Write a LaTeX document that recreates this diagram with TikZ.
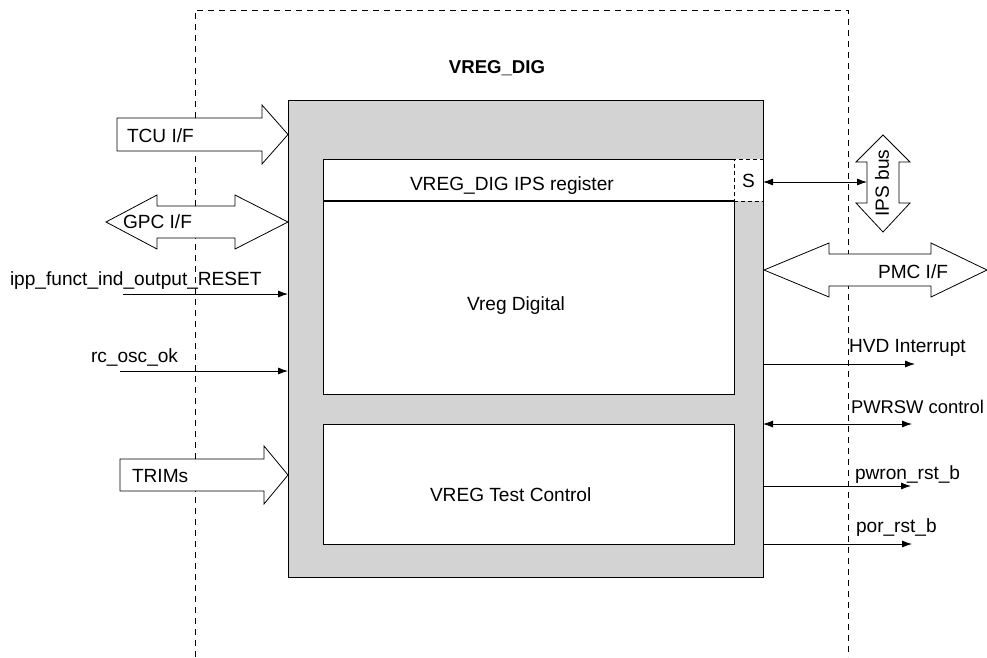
\documentclass[tikz,border=0pt]{standalone}
\usepackage{fontspec}
\setmainfont{Liberation Sans}
\usetikzlibrary{arrows.meta}
\definecolor{blockgray}{RGB}{211,211,211}
\begin{document}
\begin{tikzpicture}[x=1pt,y=-1pt,
  font=\fontsize{19.1}{22}\selectfont,
  every node/.style={outer sep=0pt},
  box/.style={draw=black, line width=0.9pt, fill=white, anchor=north west, inner sep=0pt},
  lbl/.style={anchor=base west, inner sep=0pt},
  bigarrow/.style={draw=black, line width=0.8pt, fill=white},
  sig/.style={draw=black, line width=0.8pt, -{Latex[length=10pt,width=7pt]}},
  bisig/.style={draw=black, line width=0.8pt, {Latex[length=10pt,width=7pt]}-{Latex[length=10pt,width=7pt]}},
  bound/.style={draw=black, line width=0.7pt, dash pattern=on 6pt off 5pt}]
\useasboundingbox (0,0) rectangle (987,657);

% outer dashed boundary
\draw[bound] (195,657) -- (195,10) -- (848,10) -- (848,657);
\node[font=\fontsize{18.6}{22}\selectfont\bfseries, inner sep=0pt, anchor=base] (title) at (497,73) {VREG\_DIG};

% main gray block
\node[box, fill=blockgray, minimum width=475pt, minimum height=477pt] (main) at (288,100) {};
\node[box, minimum width=411pt, minimum height=42pt] (reg) at (323,159) {};
\node[box, minimum width=411pt, minimum height=193pt] (dig) at (323,201) {};
\node[box, dash pattern=on 4pt off 3pt, minimum width=29pt, minimum height=42pt] (sbox) at (734,159) {};
\node[box, minimum width=411pt, minimum height=120pt] (test) at (323,424) {};
\draw[line width=1.2pt] (reg.south west) -- (reg.south east);

\node[lbl] (regtxt) at (410,190) {VREG\_DIG IPS register};
\node[lbl] (digtxt) at (467,310) {Vreg Digital};
\node[lbl] (testtxt) at (430,501) {VREG Test Control};
\node[inner sep=0pt, anchor=base] (stxt) at (748.5,187) {S};

% left big arrows
\draw[bigarrow] (117,118) -- (262,118) -- (262,105) -- (288,134.5) -- (262,164) -- (262,151) -- (117,151) -- cycle;
\node[lbl] (tcu) at (127,142) {TCU I/F};

\draw[bigarrow] (106,222) -- (157,195) -- (157,206) -- (235,206) -- (235,195) -- (288,222) -- (235,249) -- (235,238) -- (157,238) -- (157,249) -- cycle;
\node[lbl] (gpc) at (123,228) {GPC I/F};

\draw[bigarrow] (120,459) -- (264,459) -- (264,446) -- (288,475) -- (264,504) -- (264,491) -- (120,491) -- cycle;
\node[lbl] (trims) at (132,482) {TRIMs};

% left signals
\coordinate (ippA) at (123,294);
\coordinate (rcA) at (120,371);
\node[lbl] (ipp) at (10,285) {ipp\_funct\_ind\_output\_RESET};
\node[lbl] (rc) at (91,362) {rc\_osc\_ok};
\draw[sig] (ippA) -- (ippA -| main.west);
\draw[sig] (rcA) -- (rcA -| main.west);

% IPS bus vertical double arrow
\draw[bigarrow] (883,135) -- (910,162) -- (899,162) -- (899,203) -- (910,203) -- (883,232) -- (856,203) -- (867,203) -- (867,162) -- (856,162) -- cycle;
\node[inner sep=0pt, rotate=90] (ips) at (882,183) {IPS bus};
\coordinate (ipsL) at (867,182);
\draw[bisig] (sbox.east |- ipsL) -- (ipsL);

% PMC I/F double arrow
\draw[bigarrow] (764,270) -- (829,243) -- (829,254) -- (931,254) -- (931,243) -- (987,270) -- (931,297) -- (931,286) -- (829,286) -- (829,297) -- cycle;
\node[lbl] (pmc) at (878,278) {PMC I/F};

% right signals
\coordinate (hvdE) at (915,364);
\coordinate (pwrE) at (912,424);
\coordinate (pwronE) at (911,486);
\coordinate (porE) at (912,544);
\draw[sig] (main.east |- hvdE) -- (hvdE);
\draw[bisig] (main.east |- pwrE) -- (pwrE);
\draw[sig] (main.east |- pwronE) -- (pwronE);
\draw[sig] (main.east |- porE) -- (porE);
\node[lbl] (hvd) at (849,352) {HVD Interrupt};
\node[lbl, font=\fontsize{18.4}{22}\selectfont] (pwr) at (851,413) {PWRSW control};
\node[lbl] (pwron) at (855,479) {pwron\_rst\_b};
\node[lbl] (por) at (856,532) {por\_rst\_b};
\end{tikzpicture}
\end{document}
